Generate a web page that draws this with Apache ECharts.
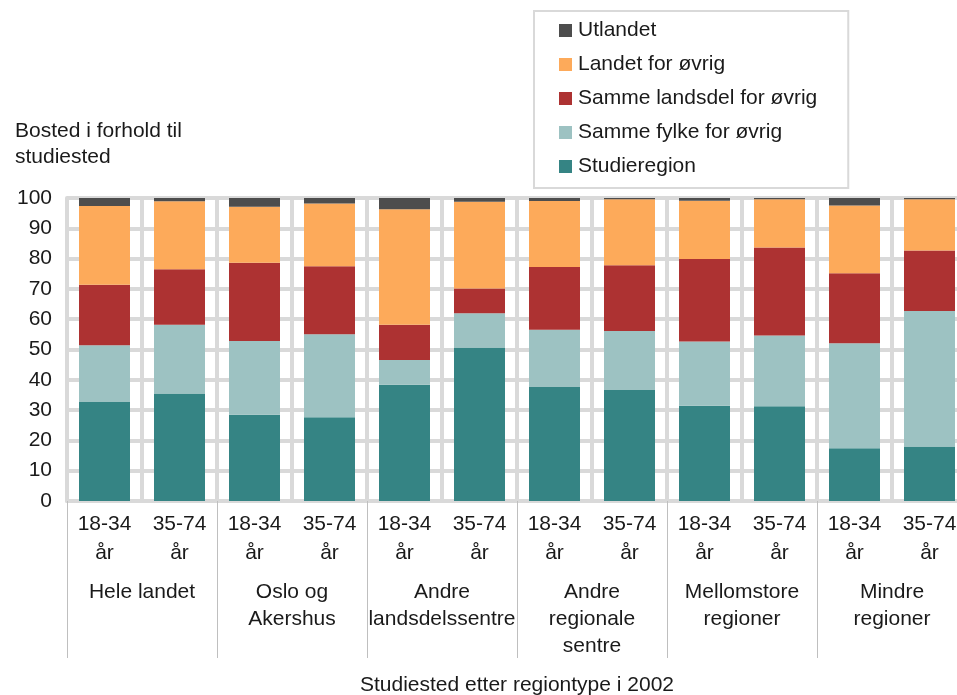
<!DOCTYPE html>
<html>
<head>
<meta charset="utf-8">
<script src="https://cdn.jsdelivr.net/npm/echarts@6/dist/echarts.min.js"></script>
<style>
  html, body { margin: 0; padding: 0; background: #fff; }
  #chart { width: 957px; height: 695px; }
</style>
</head>
<body>
<div id="chart"></div>
<script>
// aldersgrupper (en per søyle) og regiontyper (to søyler hver)
const ageLabels = ['18-34\når', '35-74\når', '18-34\når', '35-74\når', '18-34\når', '35-74\når',
  '18-34\når', '35-74\når', '18-34\når', '35-74\når', '18-34\når', '35-74\når'];
const groupLabels = ['Hele landet', 'Oslo og\nAkershus', 'Andre\nlandsdelssentre',
  'Andre\nregionale\nsentre', 'Mellomstore\nregioner', 'Mindre\nregioner'];
const yTicks = [0, 10, 20, 30, 40, 50, 60, 70, 80, 90, 100];

// andeler i prosent, lest av figuren
const studieregion = [32.7, 35.5, 28.5, 27.6, 38.4, 50.7, 37.6, 36.6, 31.4, 31.3, 17.4, 18.0];
const sammeFylke   = [18.7, 22.7, 24.3, 27.4, 8.1, 11.3, 18.9, 19.5, 21.2, 23.3, 34.7, 44.7];
const sammeLandsdel = [20.0, 18.3, 25.8, 22.5, 11.7, 8.1, 20.7, 21.7, 27.3, 29.1, 23.1, 20.0];
const landetForOvrig = [26.0, 22.4, 18.5, 20.7, 38.1, 28.7, 21.8, 21.8, 19.2, 15.9, 22.3, 16.9];
const utlandet     = [2.6, 1.1, 2.9, 1.8, 3.7, 1.2, 1.0, 0.4, 0.9, 0.4, 2.5, 0.4];

const font = 'Arial, "Liberation Sans", sans-serif';
const fs = 21;
const gridGray = '#d9d9d9';

const chart = echarts.init(document.getElementById('chart'));

const mkSeries = (name, data, color) => ({
  name: name,
  type: 'bar',
  stack: 'tot',
  data: data,
  barCategoryGap: '32%',
  itemStyle: { color: color },
  emphasis: { disabled: true },
});

chart.setOption({
  animation: false,
  textStyle: { fontFamily: font },
  title: {
    text: 'Bosted i forhold til\nstudiested',
    left: 10,
    top: 113,
    textStyle: { fontFamily: font, fontSize: fs, fontWeight: 'normal', color: '#1a1a1a', lineHeight: 26 },
  },
  legend: {
    orient: 'vertical',
    left: 534,
    top: 11,
    padding: [9, 31, 11, 25],
    itemGap: 13,
    itemWidth: 13,
    itemHeight: 13,
    borderColor: gridGray,
    borderWidth: 2,
    icon: 'rect',
    data: ['Utlandet', 'Landet for øvrig', 'Samme landsdel for øvrig', 'Samme fylke for øvrig', 'Studieregion'],
    textStyle: { fontFamily: font, fontSize: fs, color: '#1a1a1a', padding: [0, 0, 0, 1] },
  },
  grid: { left: 67, width: 900, top: 198, bottom: 194, outerBoundsMode: 'none' },
  xAxis: [
    {
      type: 'category',
      data: ageLabels,
      axisLine: { lineStyle: { color: gridGray, width: 4 } },
      axisTick: { show: false },
      splitLine: { show: true, interval: 0, lineStyle: { color: gridGray, width: 4 } },
      axisLabel: {
        interval: 0, margin: 9, fontSize: fs, lineHeight: 29, color: '#1a1a1a', fontFamily: font,
      },
    },
    {
      type: 'category',
      position: 'bottom',
      data: groupLabels,
      axisLine: { show: false },
      axisTick: { show: true, interval: 0, length: 157, lineStyle: { color: '#bfbfbf', width: 1 } },
      axisLabel: {
        interval: 0, margin: 78, fontSize: fs, lineHeight: 27, color: '#1a1a1a', fontFamily: font,
      },
      name: 'Studiested etter regiontype i 2002',
      nameLocation: 'middle',
      nameGap: 174,
      nameMoveOverlap: false,
      nameTextStyle: { fontSize: fs, color: '#1a1a1a', fontFamily: font },
    },
  ],
  yAxis: {
    type: 'value',
    min: yTicks[0],
    max: yTicks[yTicks.length - 1],
    interval: 10,
    axisLine: { show: true, lineStyle: { color: gridGray, width: 4 } },
    axisTick: { show: false },
    splitLine: { lineStyle: { color: gridGray, width: 4 } },
    axisLabel: { margin: 15, fontSize: fs, color: '#1a1a1a', fontFamily: font },
  },
  series: [
    mkSeries('Studieregion', studieregion, '#358484'),
    mkSeries('Samme fylke for øvrig', sammeFylke, '#9dc2c2'),
    mkSeries('Samme landsdel for øvrig', sammeLandsdel, '#ad3232'),
    mkSeries('Landet for øvrig', landetForOvrig, '#fdaa5a'),
    mkSeries('Utlandet', utlandet, '#4d4d4d'),
  ],
});
</script>
</body>
</html>
